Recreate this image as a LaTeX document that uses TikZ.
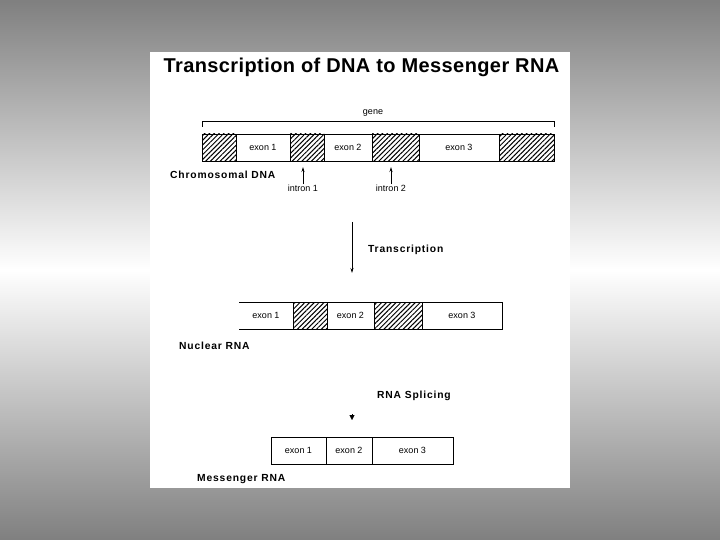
\documentclass[tikz,border=0pt]{standalone}
\usepackage{fontspec}
\setmainfont{Liberation Sans}
\newfontfamily\widebf[LetterSpace=8]{Liberation Sans Bold}
\newfontfamily\titlebf[LetterSpace=2]{Liberation Sans Bold}
\usetikzlibrary{arrows.meta, positioning, patterns.meta}

\begin{document}
\begin{tikzpicture}[x=1pt, y=-1pt,
        >=Stealth,
        seg/.style={draw, line width=0.8pt, anchor=west, minimum height=27pt,
                    inner sep=0pt, outer sep=0pt, font=\fontsize{9}{10}\selectfont},
        intron/.style={seg, pattern={Lines[angle=45, distance=3.4pt, line width=1pt]}},
        lbl/.style={font=\fontsize{10.3}{12}\selectfont\widebf, anchor=west, inner sep=0pt},
        small/.style={font=\fontsize{9}{10}\selectfont, inner sep=0pt},
        arr/.style={-{Stealth[length=5pt, width=3pt]}, line width=0.8pt},
    ]

    % ---- Backdrop and page ----
    \shade[top color=gray, bottom color=gray, middle color=white] (0,0) rectangle (720,540);
    \fill[white] (150,52) rectangle (570,488);
    \useasboundingbox (0,0) rectangle (720,540);

    \node[font=\fontsize{20}{22}\selectfont\titlebf] (title) at (361.5,67)
        {Transcription of DNA to Messenger RNA};

    % ---- Chromosomal DNA ----
    \node[intron, minimum width=34pt] (d1) at (202,147.5) {};
    \node[seg,    minimum width=54pt] (d2) at (d1.east) {exon 1};
    \node[intron, minimum width=34pt] (d3) at (d2.east) {};
    \node[seg,    minimum width=48pt] (d4) at (d3.east) {exon 2};
    \node[intron, minimum width=47pt] (d5) at (d4.east) {};
    \node[seg,    minimum width=80pt] (d6) at (d5.east) {exon 3};
    \node[intron, minimum width=55pt] (d7) at (d6.east) {};

    \node[small] (gene) at (373,113) {gene};
    \draw[line width=0.8pt] ([yshift=7pt]d1.north west) -- ++(0,-6) -| ([yshift=7pt]d7.north east);

    \node[lbl] (chrom) at (170,175) {Chromosomal DNA};
    \node[small] (i1) at (303,188) {intron 1};
    \node[small] (i2) at (391,188) {intron 2};
    \coordinate (i1top) at (303,167);
    \coordinate (i2top) at (391,167);
    \draw[arr] (i1) -- (i1top);
    \draw[arr] (i2) -- (i2top);

    % ---- Transcription ----
    \coordinate (tTop) at (352,222);
    \coordinate (tEnd) at (352,273);
    \draw[arr] (tTop) -- (tEnd);
    \node[lbl] (trans) at (368,250) {Transcription};

    % ---- Nuclear RNA ----
    \node[seg, draw=none, minimum width=54pt] (n1) at (239,315.5) {exon 1};
    \node[intron, minimum width=34pt] (n2) at (n1.east) {};
    \node[seg,    minimum width=47pt] (n3) at (n2.east) {exon 2};
    \node[intron, minimum width=48pt] (n4) at (n3.east) {};
    \node[seg,    minimum width=80pt] (n5) at (n4.east) {exon 3};
    \draw[line width=0.8pt] (n1.north east) -- (n1.north west);
    \draw[line width=0.8pt] (n1.south east) -- (n1.south west);

    \node[lbl] (nuc) at (179,346) {Nuclear RNA};

    % ---- RNA splicing ----
    \node[lbl] (splice) at (377,396) {RNA Splicing};
    \coordinate (sTop) at (352,414);
    \coordinate (sEnd) at (352,420);
    \draw[-{Triangle[length=5pt, width=5pt]}] (sTop) -- (sEnd);

    % ---- Messenger RNA ----
    \node[seg, minimum width=55pt] (m1) at (271,450.5) {exon 1};
    \node[seg, minimum width=46pt] (m2) at (m1.east) {exon 2};
    \node[seg, minimum width=81pt] (m3) at (m2.east) {exon 3};

    \node[lbl] (mess) at (197,479) {Messenger RNA};

\end{tikzpicture}
\end{document}
